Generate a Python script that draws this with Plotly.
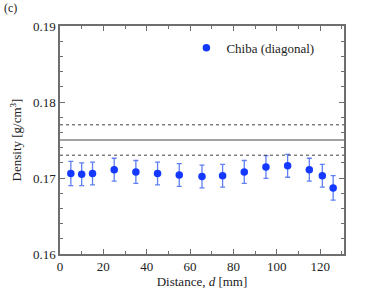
import plotly.graph_objects as go

distance = [5, 10, 15, 25, 35, 45, 55, 65.5, 75, 85, 95, 105, 115, 121, 126]
density = [0.1706, 0.1705, 0.1706, 0.1711, 0.1708, 0.1706, 0.1704, 0.1702, 0.1703,
           0.1708, 0.17145, 0.1716, 0.1711, 0.1703, 0.1687]
density_err = [0.0016, 0.0015, 0.0015, 0.0015, 0.0015, 0.0015, 0.0015, 0.0015, 0.0015,
               0.0015, 0.0015, 0.0015, 0.0015, 0.0015, 0.0016]
ref_value = 0.175
ref_err = 0.002

FONT = "Liberation Serif"
AX = "#6e6e6e"

fig = go.Figure()
fig.add_trace(go.Scatter(
    x=distance, y=density, mode="markers", name="Chiba (diagonal)",
    marker=dict(color="#1438ff", size=7.5),
    error_y=dict(type="data", array=density_err, color="#5f80f2", thickness=1.3, width=2.5),
))
for yv, dash in [(ref_value, "solid"), (ref_value + ref_err, "dot"), (ref_value - ref_err, "dot")]:
    fig.add_shape(type="line", xref="paper", x0=0, x1=1, yref="y", y0=yv, y1=yv,
                  line=dict(color="#444444", width=1, dash=dash))

fig.update_layout(
    width=374, height=299,
    margin=dict(l=60, r=30, t=26, b=45, autoexpand=False),
    paper_bgcolor="white", plot_bgcolor="white",
    font=dict(family=FONT, size=13, color="#222222"),
    showlegend=True,
    legend=dict(x=0.445, y=0.97, xanchor="left", yanchor="top", bgcolor="rgba(0,0,0,0)",
                font=dict(family=FONT, size=13), itemwidth=30),
    xaxis=dict(range=[0, 131], tickvals=[0, 20, 40, 60, 80, 100, 120], ticks="inside",
               ticklen=5, tickcolor=AX, showline=True, linecolor=AX, linewidth=1.5, mirror="allticks",
               showgrid=False, zeroline=False, automargin=False,
               minor=dict(dtick=10, ticks="inside", ticklen=3, tickcolor=AX),
               title=dict(text="Distance, <i>d</i> [mm]", standoff=4, font=dict(size=13))),
    yaxis=dict(range=[0.16, 0.19], tickvals=[0.16, 0.17, 0.18, 0.19], ticktext=["0.16", "0.17", "0.18", "0.19"],
               ticks="inside", ticklen=5, tickcolor=AX, showline=True, linecolor=AX, linewidth=1.5,
               mirror="allticks", showgrid=False, zeroline=False, automargin=False,
               minor=dict(dtick=0.002, ticks="inside", ticklen=3, tickcolor=AX),
               title=dict(text="Density [g/cm<sup>3</sup>]", standoff=8, font=dict(size=13))),
    annotations=[dict(text="(c)", xref="paper", yref="paper", x=-0.205, y=1.079, xanchor="left",
                      yanchor="middle", showarrow=False, font=dict(family=FONT, size=12))],
)

fig.write_html("out.html", config={"displayModeBar": False},
               post_script="document.body.style.margin='0';")
